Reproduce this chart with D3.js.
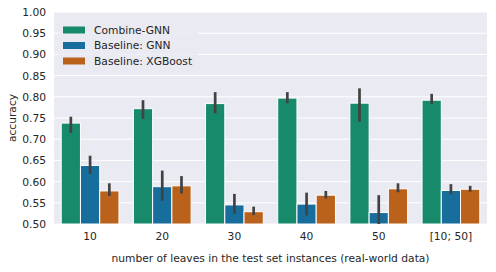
<!DOCTYPE html>
<html>
<head>
<meta charset="utf-8">
<script src="https://d3js.org/d3.v7.min.js"></script>
<style>
    body { margin: 0; background: #ffffff; }
    text { font-family: "DejaVu Sans", sans-serif; fill: #262626; }
    .tick text { font-size: 10.7px; }
    .axis-label { font-size: 10.7px; }
    .legend-label { font-size: 10.7px; }
</style>
</head>
<body>
<div id="chart"></div>
<script>
    // categories and series
    const categories = ["10", "20", "30", "40", "50", "[10; 50]"];
    const series = ["Combine-GNN", "Baseline: GNN", "Baseline: XGBoost"];
    const colors = ["#168a6a", "#176d9c", "#ba611b"];

    // mean accuracy per category, one array per series
    const combineMean = [0.738, 0.772, 0.784, 0.797, 0.785, 0.792];
    const gnnMean     = [0.638, 0.588, 0.545, 0.547, 0.527, 0.579];
    const xgbMean     = [0.578, 0.590, 0.529, 0.568, 0.583, 0.582];

    // confidence intervals (low, high)
    const combineLow  = [0.715, 0.748, 0.761, 0.785, 0.741, 0.783];
    const combineHigh = [0.753, 0.792, 0.811, 0.811, 0.820, 0.807];
    const gnnLow      = [0.618, 0.555, 0.524, 0.520, 0.490, 0.570];
    const gnnHigh     = [0.661, 0.626, 0.571, 0.574, 0.568, 0.594];
    const xgbLow      = [0.566, 0.572, 0.521, 0.560, 0.575, 0.576];
    const xgbHigh     = [0.596, 0.613, 0.541, 0.578, 0.596, 0.590];

    const yTicks = [0.50, 0.55, 0.60, 0.65, 0.70, 0.75, 0.80, 0.85, 0.90, 0.95, 1.00];

    const means = [combineMean, gnnMean, xgbMean];
    const lows = [combineLow, gnnLow, xgbLow];
    const highs = [combineHigh, gnnHigh, xgbHigh];

    const rows = [];
    series.forEach((s, si) => {
        categories.forEach((c, ci) => {
            rows.push({series: s, si: si, cat: c, value: means[si][ci], lo: lows[si][ci], hi: highs[si][ci]});
        });
    });

    const W = 496, H = 272;
    const margin = {top: 12, right: 9, bottom: 48, left: 54};
    const width = W - margin.left - margin.right;
    const height = H - margin.top - margin.bottom;

    const svg = d3.select("#chart").append("svg")
        .attr("width", W)
        .attr("height", H)
        .append("g")
        .attr("transform", `translate(${margin.left}, ${margin.top})`);

    // background
    svg.append("rect")
        .attr("width", width)
        .attr("height", height)
        .attr("fill", "#eaeaf2");

    const x0 = d3.scaleBand().domain(categories).range([0, width]).padding(0);
    const x1 = d3.scaleBand().domain(series)
        .range([x0.bandwidth() * 0.1, x0.bandwidth() * 0.9]).padding(0);
    const y = d3.scaleLinear().domain([0.5, 1.0]).range([height, 0]);

    // grid
    svg.append("g")
        .selectAll("line")
        .data(yTicks)
        .join("line")
        .attr("x1", 0).attr("x2", width)
        .attr("y1", d => y(d)).attr("y2", d => y(d))
        .attr("stroke", "#ffffff")
        .attr("stroke-width", 1);

    svg.append("clipPath").attr("id", "plotclip")
        .append("rect").attr("width", width).attr("height", height);

    const plot = svg.append("g").attr("clip-path", "url(#plotclip)");

    // bars
    plot.selectAll("rect.bar")
        .data(rows)
        .join("rect")
        .attr("class", "bar")
        .attr("x", d => x0(d.cat) + x1(d.series))
        .attr("width", x1.bandwidth())
        .attr("y", d => y(d.value))
        .attr("height", d => y(0.5) - y(d.value))
        .attr("fill", d => colors[d.si])
        .attr("stroke", "#ffffff")
        .attr("stroke-width", 1);

    // error bars
    plot.selectAll("line.err")
        .data(rows)
        .join("line")
        .attr("class", "err")
        .attr("x1", d => x0(d.cat) + x1(d.series) + x1.bandwidth() / 2)
        .attr("x2", d => x0(d.cat) + x1(d.series) + x1.bandwidth() / 2)
        .attr("y1", d => y(d.lo))
        .attr("y2", d => y(d.hi))
        .attr("stroke", "#424242")
        .attr("stroke-width", 2.7);

    // axes
    const xAxis = svg.append("g")
        .attr("transform", `translate(0, ${height})`)
        .call(d3.axisBottom(x0).tickSize(0).tickPadding(8));
    xAxis.select(".domain").remove();

    const yAxis = svg.append("g")
        .call(d3.axisLeft(y).tickValues(yTicks).tickSize(0).tickPadding(8).tickFormat(d3.format(".2f")));
    yAxis.select(".domain").remove();

    svg.selectAll(".tick text").attr("fill", "#262626");

    // axis labels
    svg.append("text")
        .attr("class", "axis-label")
        .attr("x", width / 2)
        .attr("y", height + 38)
        .attr("text-anchor", "middle")
        .text("number of leaves in the test set instances (real-world data)");

    svg.append("text")
        .attr("class", "axis-label")
        .attr("transform", `translate(${-margin.left + 16}, ${height / 2}) rotate(-90)`)
        .attr("text-anchor", "middle")
        .text("accuracy");

    // legend
    const legend = svg.append("g").attr("transform", "translate(4, 7)");
    legend.append("rect")
        .attr("width", 140)
        .attr("height", 53)
        .attr("rx", 3)
        .attr("fill", "#eaeaf2")
        .attr("fill-opacity", 0.8);

    const item = legend.selectAll("g.item")
        .data(series)
        .join("g")
        .attr("class", "item")
        .attr("transform", (d, i) => `translate(0, ${11 + i * 15.5})`);

    item.append("rect")
        .attr("x", 5)
        .attr("y", -3.5)
        .attr("width", 22)
        .attr("height", 7)
        .attr("fill", (d, i) => colors[i]);

    item.append("text")
        .attr("class", "legend-label")
        .attr("x", 36)
        .attr("dy", "0.35em")
        .text(d => d);
</script>
</body>
</html>
